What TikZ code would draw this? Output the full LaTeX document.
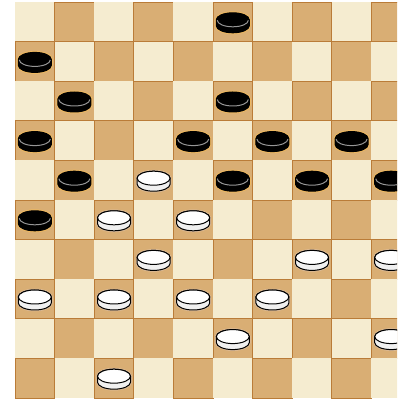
\documentclass[tikz,border=0pt]{standalone}
\usepackage{tikz}
\usetikzlibrary{calc}
\definecolor{lite}{RGB}{245,236,208}
\definecolor{wood}{RGB}{217,174,116}
\definecolor{grain}{RGB}{186,124,56}
\definecolor{halo}{RGB}{238,184,96}
\definecolor{rim}{RGB}{150,150,150}
\tikzset{
  litesq/.style={fill=lite},
  darksq/.style={fill=wood,draw=grain,line width=0.9pt},
  disk/.style={insert path={(-16.5,3) -- (-16.5,-3)
    arc[start angle=180,end angle=360,x radius=16.5,y radius=7]
    -- (16.5,3) arc[start angle=0,end angle=180,x radius=16.5,y radius=7]
    -- cycle}},
  blackman/.pic={
    \path[draw=halo,line width=3pt,disk];
    \path[fill=black,draw=black,line width=1pt,disk];
    \draw[rim,line width=1pt] (-15.5,2.5)
      arc[start angle=180,end angle=360,x radius=15.5,y radius=6.5];
  },
  whiteman/.pic={
    \path[draw=grain!50,line width=2.5pt,disk];
    \path[fill=black!6,draw=black,line width=1pt,disk];
    \path[fill=white,draw=black,line width=1pt] (0,3)
      ellipse[x radius=16.5,y radius=7];
  },
}

\begin{document}
\begin{tikzpicture}[x=1pt,y=1pt]
  \useasboundingbox (0,0) rectangle (397,399);
  \fill[white] (0,0) rectangle (397,399);
  \begin{scope}
    \clip (15,0) rectangle (397,399);
    % board, top-left square is light
    \foreach \r in {0,...,9}{
      \foreach \c in {0,...,9}{
        \pgfmathtruncatemacro\sqodd{mod(\r+\c,2)}
        \ifnum\sqodd=1
          \path[darksq] ({15+39.6*\c},{397-39.6*\r}) rectangle ++(39.6,-39.6);
        \else
          \path[litesq] ({15+39.6*\c},{397-39.6*\r}) rectangle ++(39.6,-39.6);
        \fi
      }
    }
    % men
    \foreach \c/\r in {5/0,0/1,1/2,5/2,0/3,4/3,6/3,8/3,1/4,5/4,7/4,9/4,0/5}
      \pic at ({34.8+39.6*\c},{376.2-39.6*\r}) {blackman};
    \foreach \c/\r in {3/4,2/5,4/5,3/6,7/6,9/6,0/7,2/7,4/7,6/7,5/8,9/8,2/9}
      \pic at ({34.8+39.6*\c},{376.2-39.6*\r}) {whiteman};
  \end{scope}
\end{tikzpicture}
\end{document}
